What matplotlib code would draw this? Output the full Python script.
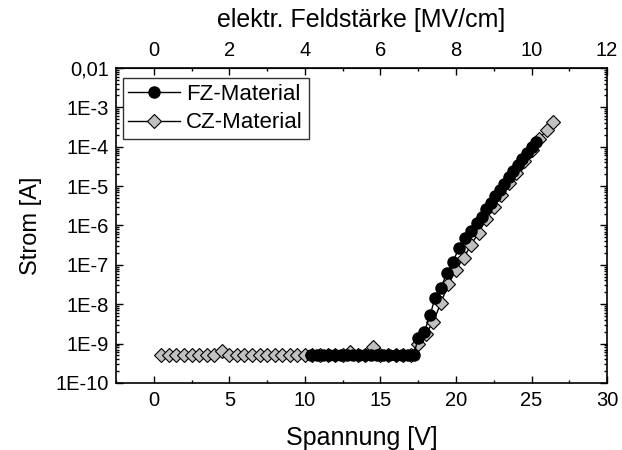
import numpy as np
import matplotlib
matplotlib.use('Agg')
import matplotlib.pyplot as plt
from matplotlib.ticker import FixedLocator, FuncFormatter, LogLocator, MultipleLocator, NullFormatter

plt.rcParams['font.family'] = ['Liberation Sans', 'DejaVu Sans']

# FZ-Material: Spannung [V] / Strom [A]
fz_u = [10.4, 10.8, 11.2, 11.6, 12.0, 12.4, 12.8, 13.2, 13.6, 14.0, 14.4, 14.8, 15.2, 15.6,
        16.0, 16.4, 16.8, 17.2,
        17.5, 17.9, 18.3, 18.6, 19.0, 19.4, 19.8, 20.2, 20.6, 21.0, 21.4, 21.7, 22.0, 22.3,
        22.6, 22.9, 23.2, 23.5, 23.8, 24.1, 24.4, 24.7, 25.0, 25.3]
fz_i = [5e-10, 5e-10, 5e-10, 5e-10, 5e-10, 5e-10, 5e-10, 5e-10, 5e-10, 5e-10, 5e-10, 5e-10,
        5e-10, 5e-10, 5e-10, 5e-10, 5e-10, 5e-10,
        1.4e-9, 2.0e-9, 5.4e-9, 1.4e-8, 2.6e-8, 6.3e-8, 1.2e-7, 2.7e-7, 4.9e-7, 7.2e-7,
        1.17e-6, 1.66e-6, 2.6e-6, 3.8e-6, 5.5e-6, 7.9e-6, 1.15e-5, 1.66e-5, 2.4e-5, 3.4e-5,
        4.9e-5, 7.1e-5, 1.0e-4, 1.35e-4]

# CZ-Material
cz_u = [0.5, 1.0, 1.5, 2.0, 2.5, 3.0, 3.5, 4.0, 4.5, 5.0, 5.5, 6.0, 6.5, 7.0, 7.5, 8.0, 8.5,
        9.0, 9.5, 10.0, 10.5, 11.0, 11.5, 12.0, 12.5, 13.0, 13.5, 14.0, 14.5, 15.0, 15.5,
        16.0, 16.5, 17.0,
        17.5, 18.0, 18.5, 19.0, 19.5, 20.0, 20.5, 21.0, 21.5, 22.0, 22.5, 23.0, 23.5, 24.0,
        24.5, 25.0, 25.5, 26.0, 26.4]
cz_i = [5e-10, 5e-10, 5e-10, 5e-10, 5e-10, 5e-10, 5e-10, 5e-10, 6.6e-10, 5e-10, 5e-10,
        5e-10, 5e-10, 5e-10, 5e-10, 5e-10, 5e-10, 5e-10, 5e-10, 5e-10, 5e-10, 5e-10, 5e-10,
        5e-10, 5e-10, 6.0e-10, 5e-10, 5e-10, 8.3e-10, 5e-10, 5e-10, 5e-10, 5e-10, 5e-10,
        1.0e-9, 1.8e-9, 3.5e-9, 1.1e-8, 3.2e-8, 7.4e-8, 1.5e-7, 3.2e-7, 6.6e-7, 1.5e-6,
        3.0e-6, 6.0e-6, 1.17e-5, 2.2e-5, 4.3e-5, 8.3e-5, 1.6e-4, 2.6e-4, 4.3e-4]

fig = plt.figure(figsize=(6.22, 4.5), dpi=100)
ax = fig.add_axes([0.1865, 0.149, 0.7895, 0.700])

ax.plot(cz_u, cz_i, color='black', lw=1.0, marker='D', ms=7.5, mfc='#c0c0c0',
        mec='black', mew=0.8, label='CZ-Material', zorder=2)
ax.plot(fz_u, fz_i, color='black', lw=1.0, marker='o', ms=8, mfc='black',
        mec='black', label='FZ-Material', zorder=3)

ax.set_yscale('log')
ax.set_xlim(-2.5, 30)
ax.set_ylim(1e-10, 1e-2)

ax.xaxis.set_major_locator(MultipleLocator(5))
ax.xaxis.set_minor_locator(MultipleLocator(2.5))
ax.yaxis.set_major_locator(LogLocator(base=10, numticks=20))
ax.yaxis.set_minor_locator(LogLocator(base=10, subs=np.arange(2, 10), numticks=20))
ax.yaxis.set_minor_formatter(NullFormatter())


def ylab(v, pos):
    e = int(round(np.log10(v)))
    if e == -2:
        return '0,01'
    return '1E%d' % e


ax.yaxis.set_major_formatter(FuncFormatter(ylab))

ax.tick_params(which='both', direction='in', top=False, right=True, labelsize=14.5, width=1.0)
ax.tick_params(which='major', length=5)
ax.tick_params(which='minor', length=2.5)
ax.tick_params(axis='x', which='major', pad=6)
ax.tick_params(axis='y', which='major', pad=5)
for s in ax.spines.values():
    s.set_linewidth(1.2)

# obere Achse: elektrische Feldstaerke
top = ax.secondary_xaxis('top', functions=(lambda u: u * 0.4, lambda e: e / 0.4))
top.xaxis.set_major_locator(FixedLocator([0, 2, 4, 6, 8, 10, 12]))
top.xaxis.set_minor_locator(FixedLocator([1, 3, 5, 7, 9, 11]))
top.tick_params(which='both', direction='in', labelsize=14.5, width=1.0)
top.tick_params(which='major', length=5, pad=6)
top.tick_params(which='minor', length=2.5)
top.set_xlabel('elektr. Feldstärke [MV/cm]', fontsize=18, labelpad=10)

ax.set_xlabel('Spannung [V]', fontsize=18, labelpad=11)
ax.set_ylabel('Strom [A]', fontsize=17, labelpad=10)

h, l = ax.get_legend_handles_labels()
leg = ax.legend(h[::-1], l[::-1], loc='upper left', bbox_to_anchor=(0.014, 0.968),
                borderaxespad=0, fontsize=16, frameon=True, fancybox=False,
                edgecolor='black', handlelength=2.3, borderpad=0.25,
                labelspacing=0.35, handletextpad=0.3)
leg.get_frame().set_linewidth(1.0)

fig.savefig('out.png', dpi=100)
